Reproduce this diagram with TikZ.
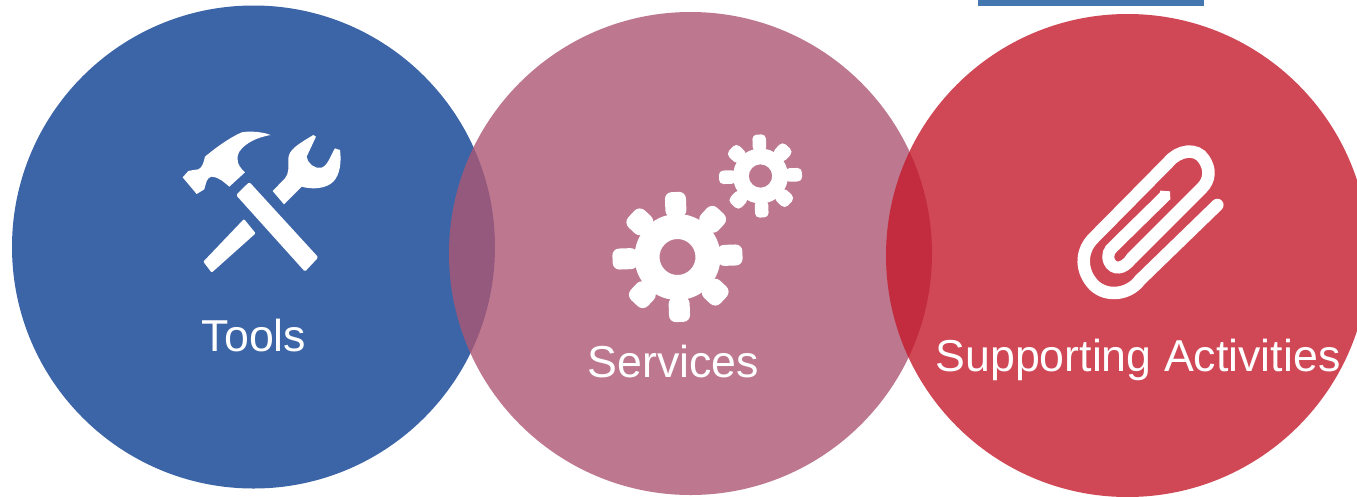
\documentclass[tikz,border=0pt]{standalone}
\usepackage{fontspec}
\setmainfont{Liberation Sans}
\definecolor{cblue}{HTML}{3C65A8}
\definecolor{cpink}{HTML}{AD5774}
\definecolor{cred}{HTML}{C51A2B}
\definecolor{cbar}{HTML}{4477B0}
\tikzset{
  disc/.style={fill=#1,fill opacity=.8,draw=none},
  label/.style={text=white,font=\fontsize{44.7}{50}\selectfont,anchor=base,inner sep=0pt},
  icon/.style={fill=white,draw=none},
  zoomed/.style={x=0.3333pt,y=-0.3333pt},
}
\newcommand{\gearicon}[6]{% cx cy holeR bodyR tipR toothW
  \begin{scope}[shift={(#1,#2)},rotate=2]
    \fill[white,even odd rule] (0,0) circle[radius=#4] (0,0) circle[radius=#3];
    \foreach \a in {0,90,180,270}{
      \fill[white,rotate=\a,rounded corners=#6*0.32pt]
        (#4-3,-#6/2) -- (#5,-#6/2) -- (#5,#6/2) -- (#4-3,#6/2) -- cycle;
    }
    \foreach \a in {45,135,225,315}{
      \fill[white,rotate=\a,rounded corners=#6*0.35pt]
        (#4-3,-#6*0.56) -- (#5*0.97,-#6*0.56) -- (#5*0.97,#6*0.56) -- (#4-3,#6*0.56) -- cycle;
    }
  \end{scope}
}
\begin{document}
\begin{tikzpicture}[x=1pt,y=-1pt]
\clip (0,0) rectangle (1357,496);
\fill[white] (0,0) rectangle (1357,496);
\fill[cbar] (978,0) rectangle (1204,6);
\fill[cblue] (253.5,247) circle[radius=241.5];
\fill[disc=cpink] (690.5,253.5) circle[radius=241.5];
\fill[disc=cred] (1127.5,255.5) circle[radius=241.5];
% hammer and wrench
\begin{scope}[shift={(170,120)},zoomed]
  \fill[icon] (38,172) -- (55,153) .. controls (65,148) and (75,152) .. (85,148)
    .. controls (97,142) and (100,130) .. (105,110)
    .. controls (135,85) and (175,55) .. (215,37)
    .. controls (240,32) and (280,36) .. (302,45)
    .. controls (260,52) and (225,70) .. (208,95)
    .. controls (198,115) and (200,135) .. (225,157)
    -- (178,200) .. controls (165,190) and (150,172) .. (125,170)
    .. controls (110,172) and (108,190) .. (103,208)
    -- (80,222) -- cycle;
  \fill[icon,rounded corners=1.5pt] (198,225) -- (238,186) -- (445,412) -- (405,455) -- cycle;
  \fill[icon,rounded corners=1pt] (222,297) -- (257,340) -- (125,458) -- (100,425) -- cycle;
  \fill[icon] (308,213) -- (345,175) .. controls (358,160) and (355,140) .. (355,115)
    .. controls (358,90) and (375,78) .. (430,45) -- (438,50) -- (410,110)
    .. controls (412,130) and (435,148) .. (455,143)
    .. controls (475,135) and (482,105) .. (495,85) -- (510,90)
    .. controls (515,125) and (510,165) .. (490,185)
    .. controls (470,205) and (430,210) .. (395,200) -- (342,253) -- cycle;
\end{scope}
% gears
\gearicon{677.5}{257}{18}{43}{65}{21}
\gearicon{760.5}{176}{11.7}{27.5}{41.5}{13.5}
% paperclip
\begin{scope}[shift={(1060,130)},zoomed]
  \draw[white,line width=12.5pt,line cap=round]
    (472,225) -- (240,450) .. controls (205,498) and (130,503) .. (95,458)
    .. controls (60,415) and (65,360) .. (100,325) -- (325,97)
    .. controls (355,60) and (410,52) .. (432,88)
    .. controls (452,118) and (450,150) .. (425,175) -- (215,385);
  \draw[white,line width=12pt]
    (215,385) .. controls (190,420) and (160,420) .. (148,395)
    .. controls (140,375) and (148,360) .. (160,350) -- (318,195);
  \fill[white] (300,182) -- (330,184) -- (331,208) -- (310,222) -- cycle;
\end{scope}
% labels
\node[label] (tools) at (254,351) {Tools};
\node[label] (services) at (673.5,377) {Services};
\node[label] (support) at (1138,371) {Supporting Activities};
\end{tikzpicture}
\end{document}
